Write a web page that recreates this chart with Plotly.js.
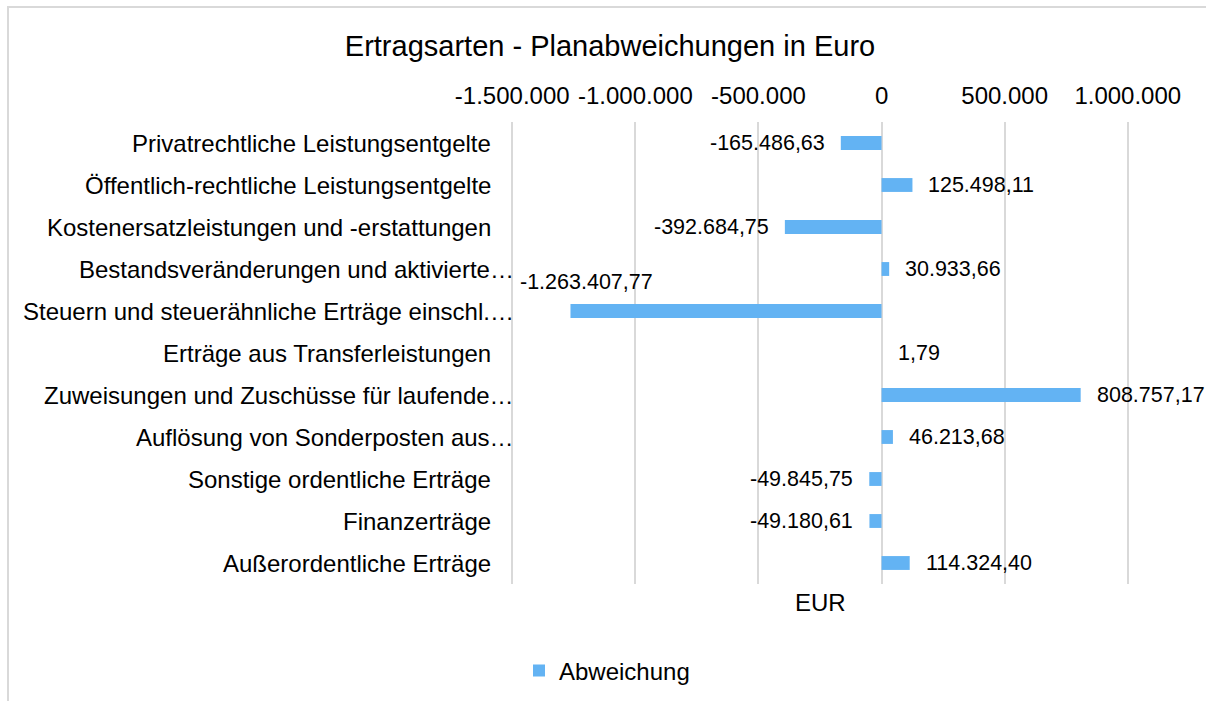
<!DOCTYPE html>
<html>
<head>
<meta charset="utf-8">
<script src="https://cdn.plot.ly/plotly-3.0.1.min.js"></script>
<style>
  html, body { margin: 0; padding: 0; background: #fff; }
  #chart { width: 1206px; height: 701px; }
  #frame { position: absolute; left: 7px; top: 6px; width: 1300px; height: 800px;
           border: 2px solid #d9d9d9; pointer-events: none; }
</style>
</head>
<body>
<div id="chart"></div>
<div id="frame"></div>
<script>
const categories = [
  "Privatrechtliche Leistungsentgelte",
  "Öffentlich-rechtliche Leistungsentgelte",
  "Kostenersatzleistungen und -erstattungen",
  "Bestandsveränderungen und aktivierte…",
  "Steuern und steuerähnliche Erträge einschl.…",
  "Erträge aus Transferleistungen",
  "Zuweisungen und Zuschüsse für laufende…",
  "Auflösung von Sonderposten aus…",
  "Sonstige ordentliche Erträge",
  "Finanzerträge",
  "Außerordentliche Erträge"
];
const abweichung = [-165486.63, 125498.11, -392684.75, 30933.66, -1263407.77, 1.79,
                    808757.17, 46213.68, -49845.75, -49180.61, 114324.40];
const tickVals = [-1500000, -1000000, -500000, 0, 500000, 1000000];
const tickText = ["-1.500.000", "-1.000.000", "-500.000", "0", "500.000", "1.000.000"];
const seriesName = "Abweichung";
const axisTitle = "EUR";
const chartTitle = "Ertragsarten - Planabweichungen in Euro";

function fmtDE(v) {
  const neg = v < 0;
  const parts = Math.abs(v).toFixed(2).split(".");
  const intPart = parts[0].replace(/\B(?=(\d{3})+(?!\d))/g, ".");
  return (neg ? "-" : "") + intPart + "," + parts[1];
}

const FONT = "Liberation Sans, Arial, sans-serif";

const labelAnnotations = abweichung.map((v, i) => {
  const a = {
    x: v, y: categories[i], xref: "x", yref: "y",
    text: fmtDE(v), showarrow: false,
    font: { family: FONT, size: 21.5, color: "#000" },
    xanchor: v >= 0 ? "left" : "right",
    xshift: v >= 0 ? 14 : -14,
    yanchor: "middle"
  };
  if (v < -1000000) {
    a.xanchor = "left"; a.xshift = -52; a.yshift = 29;
  }
  return a;
});

// category labels (Excel lets truncated labels run closer to the plot)
const categoryAnnotations = categories.map(c => ({
  x: 0, xref: "paper", y: c, yref: "y",
  text: c, showarrow: false, xanchor: "right", yanchor: "middle",
  xshift: c.endsWith("…") ? 5 : -18,
  font: { family: FONT, size: 24, color: "#000" }
}));

const data = [{
  type: "bar",
  orientation: "h",
  name: seriesName,
  x: abweichung,
  y: categories,
  width: 0.33,
  marker: { color: "#63b3f3" },
  hoverinfo: "x+y"
}];

const layout = {
  width: 1206, height: 701,
  paper_bgcolor: "#fff", plot_bgcolor: "#fff",
  font: { family: FONT, color: "#000" },
  margin: { l: 511, r: 77, t: 122, b: 117 },
  title: {
    text: chartTitle, xref: "container", x: 610 / 1206, xanchor: "center",
    yref: "container", y: 1 - 46 / 701, yanchor: "middle",
    font: { family: FONT, size: 29, color: "#000" }
  },
  xaxis: {
    side: "top", range: [-1505000, 1005000],
    tickvals: tickVals, ticktext: tickText,
    tickfont: { family: FONT, size: 24, color: "#000" },
    showgrid: true, gridcolor: "#d9d9d9", gridwidth: 2,
    zeroline: true, zerolinecolor: "#d9d9d9", zerolinewidth: 2,
    showline: false, ticks: "", ticklabelstandoff: 12, fixedrange: true
  },
  yaxis: {
    type: "category", autorange: "reversed",
    showticklabels: false,
    showgrid: false, zeroline: false, showline: false, ticks: "",
    fixedrange: true
  },
  showlegend: true,
  legend: {
    orientation: "h", xref: "container", x: 519 / 1206, xanchor: "left",
    yref: "container", y: 1 - 671 / 701, yanchor: "middle",
    font: { family: FONT, size: 24, color: "#000" }
  },
  annotations: categoryAnnotations.concat(labelAnnotations).concat([{
    text: axisTitle, xref: "paper", x: 0.5, xanchor: "center",
    yref: "paper", y: (584 - 602) / 462, yanchor: "middle",
    showarrow: false, font: { family: FONT, size: 24, color: "#000" }
  }])
};

Plotly.newPlot("chart", data, layout, { displayModeBar: false });
</script>
</body>
</html>
